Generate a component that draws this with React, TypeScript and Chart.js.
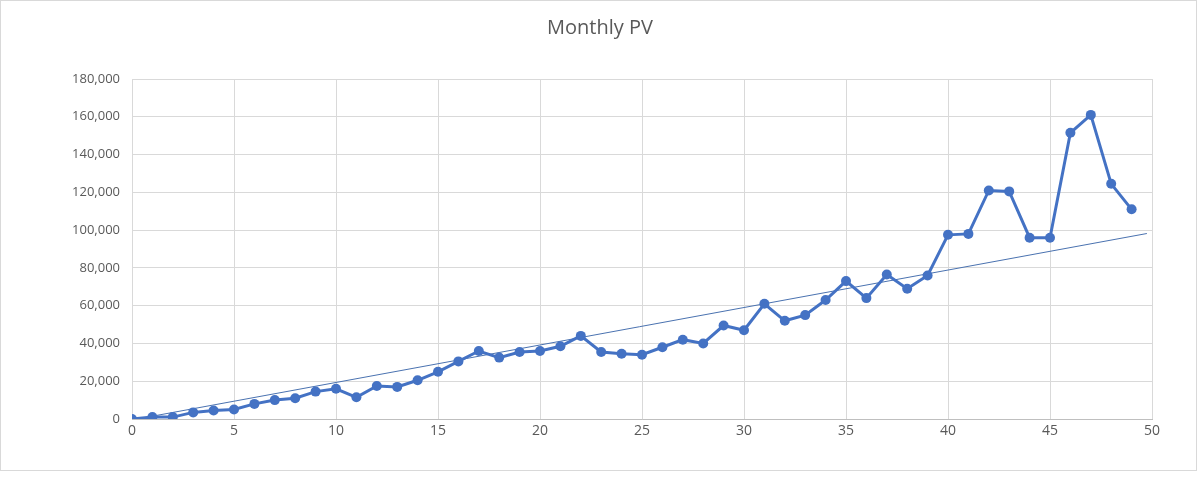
import React, { useEffect, useRef } from "react";
import { Chart, registerables } from "chart.js";
Chart.register(...registerables);

const months = Array.from({ length: 50 }, (_, i) => i);
const pv = [0, 1000, 1000, 3500, 4500, 5000, 8000, 10000, 11000, 14500, 16000, 11500, 17500, 17000, 20500, 25000, 30500, 36000, 32500, 35500, 36000, 38500, 44000, 35500, 34500, 34000, 38000, 42000, 40000, 49500, 47000, 61000, 52000, 55000, 63000, 73000, 64000, 76500, 69000, 76000, 97500, 98000, 121000, 120500, 96000, 96000, 151500, 161000, 124500, 111000];
const trendX = [0, 49.75];
const trendY = [-500, 98200];
const titleText = "Monthly PV";

export default function App() {
  const ref = useRef<HTMLCanvasElement>(null);
  useEffect(() => {
    const deco = {
      id: "deco",
      beforeDraw(c: any) {
        const ctx = c.ctx;
        ctx.save();
        ctx.fillStyle = "#fff";
        ctx.fillRect(0, 0, c.width, c.height);
        ctx.strokeStyle = "#d9d9d9";
        ctx.lineWidth = 1;
        ctx.strokeRect(0.5, 0.5, 1196, 470);
        ctx.fillStyle = "#595959";
        ctx.font = "20px 'Open Sans', 'Noto Sans', sans-serif";
        ctx.textAlign = "center";
        ctx.textBaseline = "middle";
        ctx.fillText(titleText, 600, 28);
        ctx.restore();
      },
    };
    const chart = new Chart(ref.current!, {
      type: "scatter",
      data: {
        datasets: [
          {
            data: months.map((m, i) => ({ x: m, y: pv[i] })),
            showLine: true,
            borderColor: "#4472c4",
            backgroundColor: "#4472c4",
            borderWidth: 3,
            pointRadius: 5,
            pointBorderWidth: 0,
          },
          {
            data: trendX.map((x, i) => ({ x, y: trendY[i] })),
            showLine: true,
            borderColor: "#4a72b0",
            borderWidth: 1,
            pointRadius: 0,
          },
        ],
      },
      options: {
        animation: false,
        responsive: false,
        layout: { padding: { top: 79, right: 48, left: 0, bottom: 0 } },
        plugins: { legend: { display: false }, tooltip: { enabled: false } },
        scales: {
          x: {
            type: "linear",
            min: 0,
            max: 50,
            afterFit: (s: any) => { s.height = 58; },
            ticks: { stepSize: 5, color: "#595959", font: { size: 14, family: "'Open Sans', sans-serif" }, padding: 4 },
            grid: { color: "#d9d9d9", tickLength: 0 },
            border: { color: "#bfbfbf" },
          },
          y: {
            min: 0,
            max: 180000,
            afterFit: (s: any) => { s.width = 132; },
            ticks: { stepSize: 20000, color: "#595959", font: { size: 13, family: "'Open Sans', sans-serif" }, padding: 12 },
            grid: { color: "#d9d9d9", tickLength: 0 },
            border: { display: false },
          },
        },
      },
      plugins: [deco],
    });
    return () => chart.destroy();
  }, []);
  return (
    <div style={{ position: "fixed", left: 0, top: 0 }}>
      <canvas ref={ref} width={1200} height={477} />
    </div>
  );
}
